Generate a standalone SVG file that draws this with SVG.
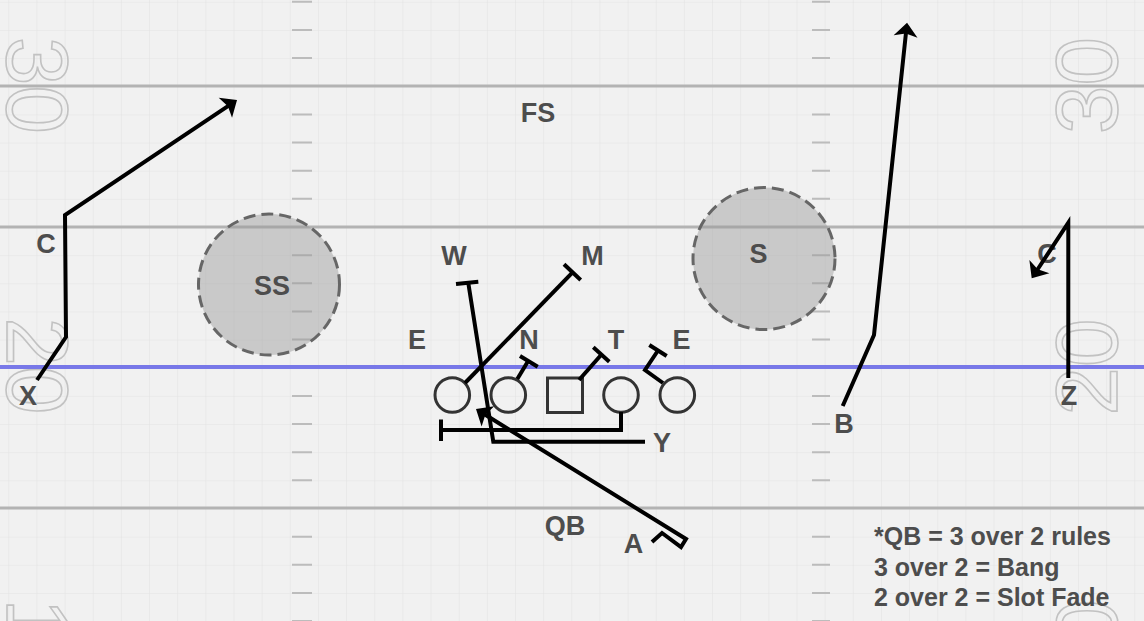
<svg xmlns="http://www.w3.org/2000/svg" width="1144" height="621" viewBox="0 0 1144 621">
  <defs>
    <pattern id="grid" patternUnits="userSpaceOnUse" x="8.3" y="1.8" width="28.15" height="28.15">
      <path d="M0 0 H28.15 M0 0 V28.15" fill="none" stroke="#e3e3e3" stroke-width="1.2"/>
    </pattern>
    <marker id="arrow" markerUnits="userSpaceOnUse" viewBox="-6 -14 18 28" refX="0" refY="0" markerWidth="18" markerHeight="28" orient="auto" overflow="visible">
      <path d="M10 0 L-4 -12 L-1 0 L-4 12 Z" fill="#000"/>
    </marker>
    <style>
      .yard { stroke: #b3b3b3; stroke-width: 3; }
      .los { stroke: #7878e8; stroke-width: 4; }
      .hash { stroke: #bcbcbc; stroke-width: 2; }
      .num { font-family: "Liberation Sans", Arial, sans-serif; font-size: 87px; fill: none; stroke: #c2c2c2; stroke-width: 1.6; text-anchor: middle; }
      .lbl { font-family: "Liberation Sans", Arial, sans-serif; font-weight: bold; font-size: 27px; fill: #4d4d4d; text-anchor: middle; }
      .note { font-family: "Liberation Sans", Arial, sans-serif; font-weight: bold; font-size: 25px; fill: #4d4d4d; }
      .route { fill: none; stroke: #000; stroke-width: 4; stroke-linejoin: miter; }
      .zone { fill: #999; fill-opacity: 0.45; stroke: #666; stroke-width: 3; stroke-dasharray: 12 6; }
      .pl { fill: none; stroke: #333; stroke-width: 3; }
    </style>
  </defs>

  <g id="field">
    <rect x="0" y="0" width="1144" height="621" fill="#f1f1f1"/>
    <rect x="0" y="0" width="1144" height="621" fill="url(#grid)"/>
    <g id="hashes">
      <path class="hash" d="M292 1.8H312 M292 29.95H312 M292 58.1H312 M292 114.4H312 M292 142.55H312 M292 170.7H312 M292 198.85H312 M292 255.15H312 M292 283.3H312 M292 311.45H312 M292 339.6H312 M292 395.9H312 M292 424.05H312 M292 452.2H312 M292 480.35H312 M292 536.65H312 M292 564.8H312 M292 592.95H312 M292 621.1H312"/>
      <path class="hash" d="M812 1.8H830 M812 29.95H830 M812 58.1H830 M812 114.4H830 M812 142.55H830 M812 170.7H830 M812 198.85H830 M812 255.15H830 M812 283.3H830 M812 311.45H830 M812 339.6H830 M812 395.9H830 M812 424.05H830 M812 452.2H830 M812 480.35H830 M812 536.65H830 M812 564.8H830 M812 592.95H830 M812 621.1H830"/>
    </g>
    <line class="yard" x1="0" y1="86" x2="1144" y2="86"/>
    <line class="yard" x1="0" y1="227" x2="1144" y2="227"/>
    <line class="yard" x1="0" y1="508" x2="1144" y2="508"/>
    <g id="numbers">
      <text class="num" transform="translate(6.5 85.5) rotate(90)">30</text>
      <text class="num" transform="translate(6.5 366) rotate(90)">20</text>
      <text class="num" transform="translate(6.5 647) rotate(90)">10</text>
      <text class="num" transform="translate(1117 85.5) rotate(-90)">30</text>
      <text class="num" transform="translate(1117 367) rotate(-90)">20</text>
      <text class="num" transform="translate(1117 648) rotate(-90)">10</text>
    </g>
    <line class="los" x1="0" y1="367" x2="1144" y2="367"/>
  </g>

  <g id="zone-SS">
    <circle class="zone" cx="269" cy="284.5" r="70.5"/>
    <text class="lbl" x="272" y="295">SS</text>
  </g>
  <g id="zone-S">
    <circle class="zone" cx="764" cy="258.5" r="71"/>
    <text class="lbl" x="758.5" y="263">S</text>
  </g>

  <g id="defense-labels">
    <text id="FS" class="lbl" x="538" y="121.5">FS</text>
    <text id="W" class="lbl" x="454" y="265">W</text>
    <text id="M" class="lbl" x="592.5" y="265">M</text>
    <text id="E-left" class="lbl" x="417" y="349">E</text>
    <text id="N" class="lbl" x="529" y="349">N</text>
    <text id="T" class="lbl" x="616" y="349">T</text>
    <text id="E-right" class="lbl" x="681.5" y="349">E</text>
    <text id="C-left" class="lbl" x="46" y="253">C</text>
    <text id="C-right" class="lbl" x="1047" y="263">C</text>
  </g>

  <g id="offense">
    <g id="LT"><circle class="pl" cx="452.3" cy="395" r="17.3"/></g>
    <g id="LG"><circle class="pl" cx="508.3" cy="395" r="17.3"/></g>
    <g id="C"><rect class="pl" x="547.5" y="378" width="35" height="34.5"/></g>
    <g id="RG"><circle class="pl" cx="621" cy="395" r="17.3"/></g>
    <g id="RT"><circle class="pl" cx="677.3" cy="395" r="17.3" stroke="#000"/></g>
    <g id="X"><text class="lbl" x="28" y="405">X</text></g>
    <g id="Z"><text class="lbl" x="1069" y="405">Z</text></g>
    <g id="B"><text class="lbl" x="844" y="433">B</text></g>
    <g id="Y"><text class="lbl" x="662" y="452">Y</text></g>
    <g id="QB"><text class="lbl" x="565" y="535">QB</text></g>
    <g id="A"><text class="lbl" x="633.5" y="553">A</text></g>
  </g>

  <g id="connectors">
    <polyline class="route" points="37,380 66,337 65,215 228.7,105.6" marker-end="url(#arrow)"/>
    <polyline class="route" points="842.7,406 874,335 906,32.6" marker-end="url(#arrow)"/>
    <polyline class="route" points="1068.3,378 1068.3,222.7 1037.2,270" marker-end="url(#arrow)"/>
    <polyline class="route" points="652,542 662,533 681,547 686,539 484.5,414.3" marker-end="url(#arrow)"/>
    <polyline class="route" points="468.3,283 493.3,441.7 645,441.7"/>
    <line class="route" x1="456" y1="284" x2="478.3" y2="281.7"/>
    <polyline class="route" points="621,412 621,430 441,430"/>
    <line class="route" x1="441" y1="419.5" x2="441" y2="441"/>
    <line class="route" x1="465" y1="383" x2="573.3" y2="271.7"/>
    <line class="route" x1="564" y1="264.3" x2="580.7" y2="280"/>
    <line class="route" x1="517.3" y1="379" x2="528.3" y2="360.7"/>
    <line class="route" x1="520" y1="356" x2="537.7" y2="366.7"/>
    <line class="route" x1="579" y1="380" x2="601.5" y2="354.5"/>
    <line class="route" x1="593.3" y1="347.3" x2="609.3" y2="361.7"/>
    <polyline class="route" points="663,383 645,370 658,350.5"/>
    <line class="route" x1="649.3" y1="345" x2="666.7" y2="356"/>
  </g>

  <g id="note">
    <text class="note" x="874" y="545">*QB = 3 over 2 rules</text>
    <text class="note" x="874" y="575.5">3 over 2 = Bang</text>
    <text class="note" x="874" y="606">2 over 2 = Slot Fade</text>
  </g>
</svg>
